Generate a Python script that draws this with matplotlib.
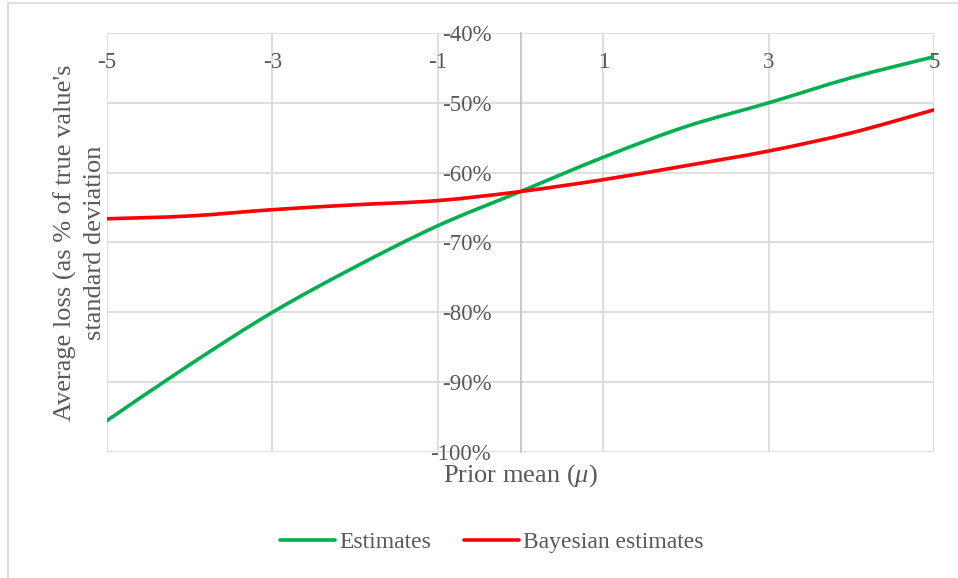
import numpy as np
import matplotlib
matplotlib.use("Agg")
import matplotlib.pyplot as plt
from matplotlib.lines import Line2D
from matplotlib.path import Path
from matplotlib.patches import PathPatch
from matplotlib.ticker import FuncFormatter

plt.rcParams['font.family'] = ['Liberation Serif', 'DejaVu Serif']
plt.rcParams['mathtext.fontset'] = 'custom'
plt.rcParams['mathtext.it'] = 'Liberation Serif:italic'
plt.rcParams['mathtext.rm'] = 'Liberation Serif'
plt.rcParams['axes.unicode_minus'] = False

# prior mean values and average losses (%)
prior_mean = [-5, -4, -3, -2, -1, 0, 1, 2, 3, 4, 5]
estimates = [-95.5, -87.5, -80.0, -73.5, -67.6, -62.7, -57.8, -53.4, -50.0, -46.4, -43.4]
bayesian = [-66.6, -66.2, -65.3, -64.6, -64.0, -62.7, -61.0, -59.0, -56.9, -54.3, -51.0]
x_ticks = [-5, -3, -1, 1, 3, 5]
y_ticks = [-100, -90, -80, -70, -60, -50, -40]

text_col = '#595959'
grid_col = '#d9d9d9'


def smooth_path(xs, ys):
    # Excel-like smoothed line: bezier segments through every data point
    p = np.column_stack([xs, ys]).astype(float)
    n = len(p)
    verts = [p[0]]
    codes = [Path.MOVETO]
    for i in range(n - 1):
        p0 = p[i - 1] if i > 0 else p[i]
        p3 = p[i + 2] if i + 2 < n else p[i + 1]
        c1 = p[i] + (p[i + 1] - p0) / 6.0
        c2 = p[i + 1] - (p3 - p[i]) / 6.0
        verts += [c1, c2, p[i + 1]]
        codes += [Path.CURVE4] * 3
    return Path(verts, codes)


fig = plt.figure(figsize=(9.58, 5.78), dpi=100)
W, H = 958, 578
ax = fig.add_axes([107 / W, (H - 452) / H, (934 - 107) / W, (452 - 33) / H])

series = [(estimates, '#00b050', 'Estimates'), (bayesian, '#ff0000', 'Bayesian estimates')]
handles = []
for vals, col, name in series:
    ax.add_patch(PathPatch(smooth_path(prior_mean, vals), fill=False, edgecolor=col,
                           lw=2.6, capstyle='round', zorder=3))
    handles.append(Line2D([], [], color=col, lw=2.6, solid_capstyle='round', label=name))

ax.set_xlim(-5, 5)
ax.set_ylim(-100, -40)
ax.set_xticks(x_ticks)
ax.set_yticks(y_ticks)
ax.yaxis.set_major_formatter(FuncFormatter(lambda v, p: '%d%%' % v))
ax.grid(True, color=grid_col, lw=1.2)
ax.set_axisbelow(True)

for s in ['top', 'right', 'bottom']:
    ax.spines[s].set_visible(False)
ax.spines['left'].set_position(('data', 0))
ax.spines['left'].set_color('#bfbfbf')
ax.spines['left'].set_linewidth(1.2)

ax.tick_params(axis='x', top=False, bottom=False, labeltop=True, labelbottom=False,
               pad=-29, labelsize=16.5, labelcolor=text_col, length=0)
ax.tick_params(axis='y', length=0, pad=21, labelsize=16.5, labelcolor=text_col)

ax.set_ylabel("Average loss (as % of true value's\nstandard deviation", fontsize=19,
              color=text_col, linespacing=1.45)
ax.yaxis.set_label_coords(-0.001, 0.5)
ax.set_xlabel(r"Prior mean ($\mu$)", fontsize=19, color=text_col, labelpad=7)

leg = ax.legend(handles=handles, loc='center', bbox_to_anchor=((492 - 107) / 827, (452 - 542) / 419),
                ncol=2, frameon=False, fontsize=17, handlelength=2.3, columnspacing=1.4,
                handletextpad=0.2)
for t in leg.get_texts():
    t.set_color(text_col)

# chart frame
fig.add_artist(Line2D([8 / W, 8 / W], [0, 1 - 3 / H], color=grid_col, lw=1.2))
fig.add_artist(Line2D([8 / W, 1], [1 - 3 / H, 1 - 3 / H], color=grid_col, lw=1.2))

fig.savefig('out.png', dpi=100)
